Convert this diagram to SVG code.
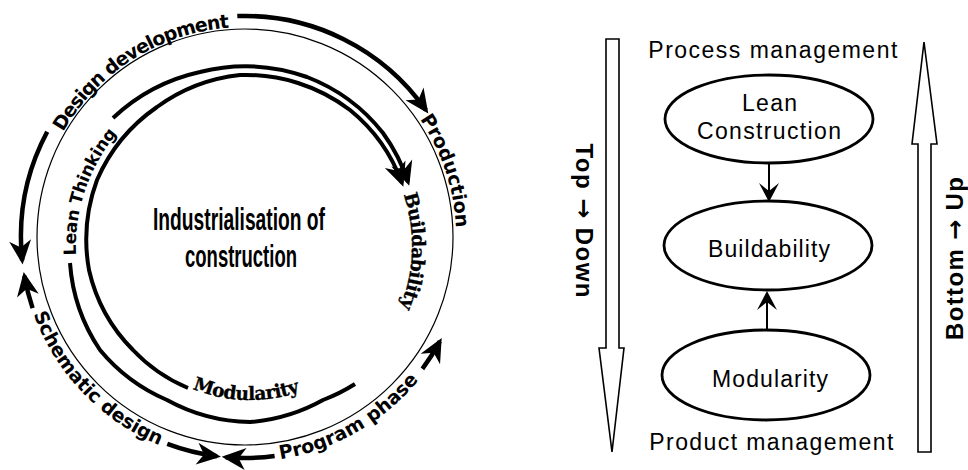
<svg xmlns="http://www.w3.org/2000/svg" width="968" height="470" viewBox="0 0 968 470">
<style>
.thin{fill:none;stroke:#000;stroke-width:1.2}
.arc{fill:none;stroke:#000;stroke-width:4.5}
.inarc{fill:none;stroke:#000;stroke-width:4}
.lbl{font-family:"DejaVu Sans","Liberation Sans",sans-serif;font-weight:bold;font-size:19px;fill:#000}
.ser{font-family:"DejaVu Serif","Liberation Serif",serif;font-weight:bold;font-size:18.5px;fill:#000;stroke:#000;stroke-width:0.35}
.ctr{font-family:"Liberation Sans",Arial,sans-serif;font-weight:bold;font-size:32px;fill:#000}
.sans{font-family:"Liberation Sans",Arial,sans-serif;font-size:23px;fill:#000}
.vert{font-family:"Liberation Sans",Arial,sans-serif;font-weight:bold;font-size:24px;fill:#000}
.arw{font-family:"DejaVu Sans",sans-serif;font-weight:bold;fill:#000}
.ell{fill:#fff;stroke:#000;stroke-width:2.8}
.hollow{fill:#fff;stroke:#000;stroke-width:1.6}
.link{fill:none;stroke:#000;stroke-width:2}
</style>
<defs>
<marker id="ah" markerUnits="userSpaceOnUse" viewBox="-22 -12 28 24" refX="0" refY="0" markerWidth="28" markerHeight="24" orient="auto"><path d="M4,0 L-20,-11 L-13,0 L-20,11 Z" fill="#000"/></marker>
<marker id="ahs" markerUnits="userSpaceOnUse" viewBox="-20 -11 24 22" refX="0" refY="0" markerWidth="24" markerHeight="22" orient="auto"><path d="M2,0 L-17,-10 L-9,0 L-17,10 Z" fill="#000"/></marker>
<path id="pDD" d="M63.1,132 A210,210 0 0 1 230.3,27.5"/>
<path id="pProd" d="M419.9,119 A211,211 0 0 1 455.9,229.6"/>
<path id="pSch" d="M33.6,314 A225,225 0 0 0 160.7,445.6"/>
<path id="pProg" d="M280.2,459.2 A225,225 0 0 0 419.8,378.6"/>
<path id="pLean" d="M76.2,255.1 A174,174 0 0 1 117.7,133"/>
<path id="pBuild" d="M403.6,194.6 A162,162 0 0 1 400.2,306.7"/>
<path id="pMod" d="M192.3,388.8 A154,154 0 0 0 300.1,391.6"/>
</defs>
<rect width="968" height="470" fill="#fff"/>

<g id="cycle">
<circle class="thin" cx="245" cy="237" r="208"/>
</g>

<g id="connectors">
<path class="arc" d="M237.3,16.1 A221,221 0 0 1 426,110.2" marker-end="url(#ah)"/>
<path class="arc" d="M47.2,131.8 A224,224 0 0 0 22.2,260.4" marker-end="url(#ah)"/>
<path class="arc" d="M32.6,308.1 A224,224 0 0 1 24.4,275.9" marker-end="url(#ah)"/>
<path class="arc" d="M167.3,443.9 A221,221 0 0 0 216.9,456.2" marker-end="url(#ah)"/>
<path class="arc" d="M274.6,456 A221,221 0 0 1 225.7,457.2" marker-end="url(#ah)"/>
<path class="arc" d="M422.4,368.8 A221,221 0 0 0 439.8,341.4" marker-end="url(#ah)"/>
<path class="inarc" d="M113,118 A185,185 0 0 1 200,72 A185,185 0 0 1 307,77 A178,178 0 0 1 383,133 A178,178 0 0 1 408,182" marker-end="url(#ah)"/>
<path class="inarc" d="M70,263 A178,178 0 0 0 100,350 A178,178 0 0 0 167,400 A178,178 0 0 0 250,422 A178,178 0 0 0 323,400 A178,178 0 0 0 355,384"/>
<path class="inarc" d="M188,388 A160,160 0 0 1 133,350 A165,165 0 0 1 89,270 A172,172 0 0 1 97,180 A172,172 0 0 1 157,107 A172,172 0 0 1 240,75 A172,172 0 0 1 350,110 A168,168 0 0 1 402,183" marker-end="url(#ah)"/>
<line class="link" x1="769" y1="163" x2="769" y2="200" marker-end="url(#ahs)"/>
<line class="link" x1="767" y1="330" x2="767" y2="293" marker-end="url(#ahs)"/>
</g>

<g id="design-development"><text class="lbl"><textPath href="#pDD" textLength="204">Design development</textPath></text></g>
<g id="production"><text class="lbl"><textPath href="#pProd" textLength="116">Production</textPath></text></g>
<g id="schematic-design"><text class="lbl"><textPath href="#pSch" textLength="187">Schematic design</textPath></text></g>
<g id="program-phase"><text class="lbl"><textPath href="#pProg" textLength="163">Program phase</textPath></text></g>
<g id="lean-thinking"><text class="lbl" style="font-size:17px"><textPath href="#pLean" textLength="131">Lean Thinking</textPath></text></g>
<g id="buildability-arc"><text class="ser"><textPath href="#pBuild" textLength="115">Buildability</textPath></text></g>
<g id="modularity-arc"><text class="ser"><textPath href="#pMod" textLength="110">Modularity</textPath></text></g>
<g id="center">
<text class="ctr" x="239" y="230" text-anchor="middle" textLength="172" lengthAdjust="spacingAndGlyphs">Industrialisation of</text>
<text class="ctr" x="241" y="267" text-anchor="middle" textLength="112" lengthAdjust="spacingAndGlyphs">construction</text>
</g>

<g id="top-down">
<polygon class="hollow" points="606,39 619,39 619,348 624,348 612,452 599,348 606,348"/>
<text class="vert" transform="translate(576,220.5) rotate(90)" text-anchor="middle" textLength="154">Top <tspan class="arw">→</tspan> Down</text>
</g>
<g id="bottom-up">
<polygon class="hollow" points="924,42 937,144 931,144 931,452 918,452 918,144 912,144"/>
<text class="vert" transform="translate(963,258.5) rotate(-90)" text-anchor="middle" textLength="163">Bottom <tspan class="arw">→</tspan> Up</text>
</g>
<g id="process-management"><text class="sans" x="772.8" y="58" text-anchor="middle" textLength="249">Process management</text></g>
<g id="product-management"><text class="sans" x="771.3" y="450" text-anchor="middle" textLength="244">Product management</text></g>
<g id="lean-construction">
<ellipse class="ell" cx="769" cy="119" rx="104" ry="44"/>
<text class="sans" x="769.5" y="110.5" text-anchor="middle" textLength="55">Lean</text>
<text class="sans" x="769" y="139" text-anchor="middle" textLength="144">Construction</text>
</g>
<g id="buildability">
<ellipse class="ell" cx="768" cy="245.5" rx="104" ry="44.5"/>
<text class="sans" x="769" y="256.5" text-anchor="middle" textLength="122">Buildability</text>
</g>
<g id="modularity">
<ellipse class="ell" cx="766" cy="375" rx="104" ry="45"/>
<text class="sans" x="770" y="386.5" text-anchor="middle" textLength="116">Modularity</text>
</g>
</svg>
